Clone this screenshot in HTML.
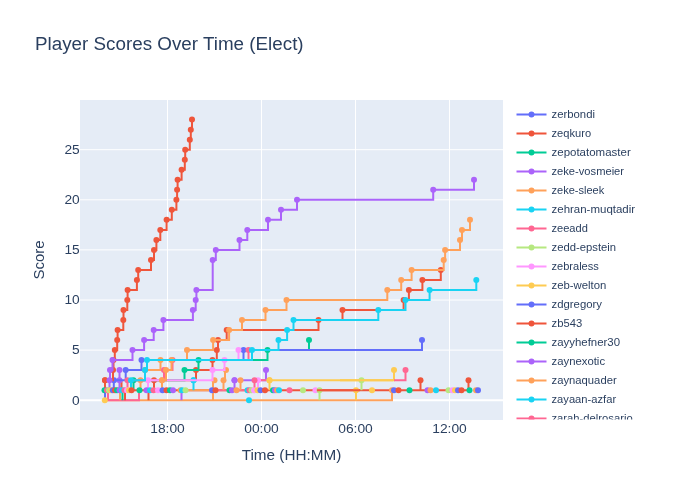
<!DOCTYPE html>
<html><head><meta charset="utf-8"><style>
html,body{margin:0;padding:0;background:#fff;}
svg{display:block;will-change:transform;}
text{font-family:"Liberation Sans",sans-serif;fill:#2a3f5f;}
.tk{font-size:12.3px;}
.lg{font-size:10.8px;}
.tt{font-size:17.6px;}
.ax{font-size:14.4px;}
.tr path{fill:none;stroke-width:2;}
</style></head><body>
<svg width="700" height="500" viewBox="0 0 700 500">
<rect width="700" height="500" fill="#fff"/>
<rect x="80" y="100" width="423" height="320" fill="#E5ECF6"/>
<g stroke="#fff" stroke-width="1" fill="none"><path d="M167.5,100V420"/><path d="M261.5,100V420"/><path d="M355.5,100V420"/><path d="M449.5,100V420"/><path d="M80,350.1H503"/><path d="M80,300.0H503"/><path d="M80,249.9H503"/><path d="M80,199.8H503"/><path d="M80,149.7H503"/></g>
<path d="M80,400.2H503" stroke="#fff" stroke-width="2"/>
<clipPath id="cp"><rect x="80" y="100" width="423" height="320"/></clipPath>
<g class="tr" clip-path="url(#cp)">
<path d="M105.0,400.2H392.0V390.2" stroke="#FFA15A"/>
<path d="M108,390.2V400.2H139V390.2" stroke="#FF6692"/>
<path d="M105.0,400.2V390.2" stroke="#636efa"/>
<path d="M120.0,400.2V390.2" stroke="#FFA15A"/>
<path d="M122.5,400.2V390.2" stroke="#00cc96"/>
<path d="M125.0,400.2V390.2" stroke="#EF553B"/>
<path d="M148.5,400.2V390.2" stroke="#EF553B"/>
<path d="M181.5,400.2V390.2" stroke="#ab63fa"/>
<path d="M213.0,400.2V390.2" stroke="#FFA15A"/>
<path d="M319.5,400.2V390.2" stroke="#B6E880"/>
<path d="M356.0,400.2V390.2" stroke="#FECB52"/>
<path d="M104.0,390.2H470.0" stroke="#EF553B"/>
<path d="M185.0,390.2H210.0" stroke="#FFA15A"/>
<path d="M215.5,390.2H246.0" stroke="#FF6692"/>
<path d="M109.5,390.2V380.2" stroke="#ab63fa"/>
<path d="M119.5,390.2V380.2" stroke="#ab63fa"/>
<path d="M121.5,390.2V380.2" stroke="#EF553B"/>
<path d="M193.5,390.2V380.2" stroke="#19d3f3"/>
<path d="M361.5,390.2V380.2" stroke="#B6E880"/>
<path d="M420.5,390.2V380.2" stroke="#EF553B"/>
<path d="M468.5,390.2V380.2" stroke="#EF553B"/>
<path d="M269.5,390.2V380.2" stroke="#FECB52"/>
<path d="M213.0,390.2V380.2" stroke="#FFA15A"/>
<path d="M127.5,390.2V380.2" stroke="#FF6692"/>
<path d="M234.5,390.2V380.2" stroke="#ab63fa"/>
<path d="M240.5,390.2V380.2" stroke="#FFA15A"/>
<path d="M254.5,390.2V380.2" stroke="#FF6692"/>
<path d="M258.0,390.2V380.2" stroke="#FF97FF"/>
<path d="M140.5,390.2V380.2" stroke="#FFA15A"/>
<path d="M223.5,390.2V380.2" stroke="#FFA15A"/>
<path d="M105.0,390.2V380.2" stroke="#EF553B"/>
<path d="M113.8,390.2V380.2" stroke="#636efa"/>
<path d="M131.0,390.2V380.2" stroke="#19d3f3"/>
<path d="M133.5,390.2V380.2" stroke="#00cc96"/>
<path d="M148.0,390.2V380.2" stroke="#FF97FF"/>
<path d="M154.0,390.2V380.2" stroke="#EF553B"/>
<path d="M162.0,390.2V380.2" stroke="#FFA15A"/>
<path d="M234.5,380.2H266.0V370.1" stroke="#ab63fa"/>
<circle cx="234.5" cy="380.2" r="3" fill="#ab63fa"/>
<circle cx="266.0" cy="370.1" r="3" fill="#ab63fa"/>
<path d="M258.0,380.2H266.0" stroke="#FF6692"/>
<path d="M269.5,380.2H394.0V370.1" stroke="#FECB52"/>
<circle cx="269.5" cy="380.2" r="3" fill="#FECB52"/>
<circle cx="394.0" cy="370.1" r="3" fill="#FECB52"/>
<path d="M394.0,380.2H405.5V370.1" stroke="#FF6692"/>
<circle cx="405.5" cy="370.1" r="3" fill="#FF6692"/>
<path d="M223.5,380.2H225.0V370.1" stroke="#FFA15A"/>
<circle cx="223.5" cy="380.2" r="3" fill="#FFA15A"/>
<circle cx="226.0" cy="370.1" r="3" fill="#FFA15A"/>
<path d="M119.5,380.2H119.5V370.1" stroke="#ab63fa"/>
<circle cx="119.5" cy="380.2" r="3" fill="#ab63fa"/>
<circle cx="119.5" cy="370.1" r="3" fill="#ab63fa"/>
<circle cx="104.5" cy="390.2" r="3" fill="#00cc96"/>
<circle cx="107.0" cy="390.2" r="3" fill="#FF6692"/>
<circle cx="109.0" cy="390.2" r="3" fill="#B6E880"/>
<circle cx="111.0" cy="390.2" r="3" fill="#FECB52"/>
<circle cx="112.8" cy="390.2" r="3" fill="#636efa"/>
<circle cx="115.0" cy="390.2" r="3" fill="#EF553B"/>
<circle cx="117.0" cy="390.2" r="3" fill="#00cc96"/>
<circle cx="119.5" cy="390.2" r="3" fill="#ab63fa"/>
<circle cx="122.0" cy="390.2" r="3" fill="#19d3f3"/>
<circle cx="124.5" cy="390.2" r="3" fill="#FF6692"/>
<circle cx="127.0" cy="390.2" r="3" fill="#FF97FF"/>
<circle cx="129.0" cy="390.2" r="3" fill="#FECB52"/>
<circle cx="131.5" cy="390.2" r="3" fill="#EF553B"/>
<circle cx="139.5" cy="390.2" r="3" fill="#00cc96"/>
<circle cx="146.5" cy="390.2" r="3" fill="#ab63fa"/>
<circle cx="150.0" cy="390.2" r="3" fill="#19d3f3"/>
<circle cx="153.5" cy="390.2" r="3" fill="#FF6692"/>
<circle cx="158.0" cy="390.2" r="3" fill="#FF97FF"/>
<circle cx="162.5" cy="390.2" r="3" fill="#636efa"/>
<circle cx="166.5" cy="390.2" r="3" fill="#EF553B"/>
<circle cx="170.0" cy="390.2" r="3" fill="#00cc96"/>
<circle cx="173.0" cy="390.2" r="3" fill="#ab63fa"/>
<circle cx="180.5" cy="390.2" r="3" fill="#FFA15A"/>
<circle cx="182.0" cy="390.2" r="3" fill="#19d3f3"/>
<circle cx="185.5" cy="390.2" r="3" fill="#B6E880"/>
<circle cx="212.0" cy="390.2" r="3" fill="#636efa"/>
<circle cx="215.5" cy="390.2" r="3" fill="#EF553B"/>
<circle cx="229.5" cy="390.2" r="3" fill="#00cc96"/>
<circle cx="232.0" cy="390.2" r="3" fill="#ab63fa"/>
<circle cx="236.5" cy="390.2" r="3" fill="#FFA15A"/>
<circle cx="247.5" cy="390.2" r="3" fill="#19d3f3"/>
<circle cx="249.5" cy="390.2" r="3" fill="#FF6692"/>
<circle cx="251.5" cy="390.2" r="3" fill="#B6E880"/>
<circle cx="254.0" cy="390.2" r="3" fill="#FF97FF"/>
<circle cx="257.5" cy="390.2" r="3" fill="#FECB52"/>
<circle cx="260.5" cy="390.2" r="3" fill="#636efa"/>
<circle cx="265.0" cy="390.2" r="3" fill="#EF553B"/>
<circle cx="273.0" cy="390.2" r="3" fill="#00cc96"/>
<circle cx="275.0" cy="390.2" r="3" fill="#ab63fa"/>
<circle cx="277.0" cy="390.2" r="3" fill="#FFA15A"/>
<circle cx="279.0" cy="390.2" r="3" fill="#19d3f3"/>
<circle cx="289.5" cy="390.2" r="3" fill="#FF6692"/>
<circle cx="303.0" cy="390.2" r="3" fill="#B6E880"/>
<circle cx="315.5" cy="390.2" r="3" fill="#FF97FF"/>
<circle cx="319.5" cy="390.2" r="3" fill="#B6E880"/>
<circle cx="356.0" cy="390.2" r="3" fill="#FECB52"/>
<circle cx="372.0" cy="390.2" r="3" fill="#FECB52"/>
<circle cx="392.0" cy="390.2" r="3" fill="#FFA15A"/>
<circle cx="394.0" cy="390.2" r="3" fill="#636efa"/>
<circle cx="398.5" cy="390.2" r="3" fill="#EF553B"/>
<circle cx="409.5" cy="390.2" r="3" fill="#00cc96"/>
<circle cx="427.5" cy="390.2" r="3" fill="#ab63fa"/>
<circle cx="430.5" cy="390.2" r="3" fill="#FFA15A"/>
<circle cx="436.0" cy="390.2" r="3" fill="#19d3f3"/>
<circle cx="448.5" cy="390.2" r="3" fill="#B6E880"/>
<circle cx="452.5" cy="390.2" r="3" fill="#FF97FF"/>
<circle cx="455.0" cy="390.2" r="3" fill="#FECB52"/>
<circle cx="458.0" cy="390.2" r="3" fill="#636efa"/>
<circle cx="461.5" cy="390.2" r="3" fill="#EF553B"/>
<circle cx="469.5" cy="390.2" r="3" fill="#00cc96"/>
<circle cx="476.0" cy="390.2" r="3" fill="#FFA15A"/>
<circle cx="478.0" cy="390.2" r="3" fill="#636efa"/>
<circle cx="105.0" cy="380.2" r="3" fill="#EF553B"/>
<circle cx="258.0" cy="380.2" r="3" fill="#FF97FF"/>
<circle cx="254.5" cy="380.2" r="3" fill="#FF6692"/>
<circle cx="234.5" cy="380.2" r="3" fill="#ab63fa"/>
<circle cx="240.5" cy="380.2" r="3" fill="#FFA15A"/>
<circle cx="269.5" cy="380.2" r="3" fill="#FECB52"/>
<circle cx="361.5" cy="380.2" r="3" fill="#B6E880"/>
<circle cx="420.5" cy="380.2" r="3" fill="#EF553B"/>
<circle cx="468.5" cy="380.2" r="3" fill="#EF553B"/>
<circle cx="193.5" cy="380.2" r="3" fill="#19d3f3"/>
<circle cx="214.5" cy="380.2" r="3" fill="#FFA15A"/>
<circle cx="162.0" cy="380.2" r="3" fill="#FFA15A"/>
<path d="M317.0,390.2H360.0" stroke="#EF553B"/>
<path d="M340.0,380.2H393.0" stroke="#FECB52"/>
<circle cx="104.8" cy="400.2" r="3" fill="#FECB52"/>
<circle cx="249.0" cy="400.2" r="3" fill="#19d3f3"/>
<path d="M154.0,380.2H196.0V370.1H212.5V360.1H216.8V350.1H218.0V340.1H226.7V330.1H318.5V320.0H342.5V310.0H403.6V300.0H408.9V290.0H422.4V280.0H440.8V269.9" stroke="#EF553B"/>
<circle cx="154.0" cy="380.2" r="3" fill="#EF553B"/>
<circle cx="196.0" cy="370.1" r="3" fill="#EF553B"/>
<circle cx="212.5" cy="360.1" r="3" fill="#EF553B"/>
<circle cx="216.8" cy="350.1" r="3" fill="#EF553B"/>
<circle cx="218.0" cy="340.1" r="3" fill="#EF553B"/>
<circle cx="226.7" cy="330.1" r="3" fill="#EF553B"/>
<circle cx="318.5" cy="320.0" r="3" fill="#EF553B"/>
<circle cx="342.5" cy="310.0" r="3" fill="#EF553B"/>
<circle cx="403.6" cy="300.0" r="3" fill="#EF553B"/>
<circle cx="408.9" cy="290.0" r="3" fill="#EF553B"/>
<circle cx="422.4" cy="280.0" r="3" fill="#EF553B"/>
<circle cx="440.8" cy="269.9" r="3" fill="#EF553B"/>
<path d="M133.5,380.2H184.5V370.1H198.5V360.1H267.5V350.1H309.0V340.1" stroke="#00cc96"/>
<circle cx="133.5" cy="380.2" r="3" fill="#00cc96"/>
<circle cx="184.5" cy="370.1" r="3" fill="#00cc96"/>
<circle cx="198.5" cy="360.1" r="3" fill="#00cc96"/>
<circle cx="267.5" cy="350.1" r="3" fill="#00cc96"/>
<circle cx="309.0" cy="340.1" r="3" fill="#00cc96"/>
<path d="M114.0,380.2H125.7V370.1H141.5V360.1H243.5V350.1H422.0V340.1" stroke="#636efa"/>
<circle cx="114.0" cy="380.2" r="3" fill="#636efa"/>
<circle cx="125.7" cy="370.1" r="3" fill="#636efa"/>
<circle cx="141.5" cy="360.1" r="3" fill="#636efa"/>
<circle cx="243.5" cy="350.1" r="3" fill="#636efa"/>
<circle cx="422.0" cy="340.1" r="3" fill="#636efa"/>
<path d="M105.0,380.2H113.0V370.1H113.5V360.1H114.8V350.1H117.2V340.1H117.6V330.1H123.3V320.0H123.5V310.0H127.3V300.0H127.6V290.0H136.9V280.0H138.2V269.9H151.0V259.9H154.0V249.9H156.4V239.9H160.3V229.9H166.6V219.8H171.8V209.8H176.4V199.8H177.1V189.8H177.6V179.8H181.6V169.7H184.8V159.7H185.2V149.7H189.8V139.7H190.8V129.7H192.0V119.6" stroke="#EF553B"/>
<circle cx="105.0" cy="380.2" r="3" fill="#EF553B"/>
<circle cx="113.0" cy="370.1" r="3" fill="#EF553B"/>
<circle cx="113.5" cy="360.1" r="3" fill="#EF553B"/>
<circle cx="114.8" cy="350.1" r="3" fill="#EF553B"/>
<circle cx="117.2" cy="340.1" r="3" fill="#EF553B"/>
<circle cx="117.6" cy="330.1" r="3" fill="#EF553B"/>
<circle cx="123.3" cy="320.0" r="3" fill="#EF553B"/>
<circle cx="123.5" cy="310.0" r="3" fill="#EF553B"/>
<circle cx="127.3" cy="300.0" r="3" fill="#EF553B"/>
<circle cx="127.6" cy="290.0" r="3" fill="#EF553B"/>
<circle cx="136.9" cy="280.0" r="3" fill="#EF553B"/>
<circle cx="138.2" cy="269.9" r="3" fill="#EF553B"/>
<circle cx="151.0" cy="259.9" r="3" fill="#EF553B"/>
<circle cx="154.0" cy="249.9" r="3" fill="#EF553B"/>
<circle cx="156.4" cy="239.9" r="3" fill="#EF553B"/>
<circle cx="160.3" cy="229.9" r="3" fill="#EF553B"/>
<circle cx="166.6" cy="219.8" r="3" fill="#EF553B"/>
<circle cx="171.8" cy="209.8" r="3" fill="#EF553B"/>
<circle cx="176.4" cy="199.8" r="3" fill="#EF553B"/>
<circle cx="177.1" cy="189.8" r="3" fill="#EF553B"/>
<circle cx="177.6" cy="179.8" r="3" fill="#EF553B"/>
<circle cx="181.6" cy="169.7" r="3" fill="#EF553B"/>
<circle cx="184.8" cy="159.7" r="3" fill="#EF553B"/>
<circle cx="185.2" cy="149.7" r="3" fill="#EF553B"/>
<circle cx="189.8" cy="139.7" r="3" fill="#EF553B"/>
<circle cx="190.8" cy="129.7" r="3" fill="#EF553B"/>
<circle cx="192.0" cy="119.6" r="3" fill="#EF553B"/>
<path d="M109.5,380.2H110.0V370.1H112.5V360.1H132.5V350.1H144.1V340.1H153.7V330.1H163.4V320.0H192.9V310.0H195.7V300.0H196.4V290.0H212.7V259.9H215.8V249.9H239.5V239.9H247.3V229.9H268.0V219.8H281.0V209.8H297.0V199.8H433.2V189.8H474.0V179.8" stroke="#ab63fa"/>
<circle cx="109.5" cy="380.2" r="3" fill="#ab63fa"/>
<circle cx="110.0" cy="370.1" r="3" fill="#ab63fa"/>
<circle cx="112.5" cy="360.1" r="3" fill="#ab63fa"/>
<circle cx="132.5" cy="350.1" r="3" fill="#ab63fa"/>
<circle cx="144.1" cy="340.1" r="3" fill="#ab63fa"/>
<circle cx="153.7" cy="330.1" r="3" fill="#ab63fa"/>
<circle cx="163.4" cy="320.0" r="3" fill="#ab63fa"/>
<circle cx="192.9" cy="310.0" r="3" fill="#ab63fa"/>
<circle cx="195.7" cy="300.0" r="3" fill="#ab63fa"/>
<circle cx="196.4" cy="290.0" r="3" fill="#ab63fa"/>
<circle cx="212.7" cy="259.9" r="3" fill="#ab63fa"/>
<circle cx="215.8" cy="249.9" r="3" fill="#ab63fa"/>
<circle cx="239.5" cy="239.9" r="3" fill="#ab63fa"/>
<circle cx="247.3" cy="229.9" r="3" fill="#ab63fa"/>
<circle cx="268.0" cy="219.8" r="3" fill="#ab63fa"/>
<circle cx="281.0" cy="209.8" r="3" fill="#ab63fa"/>
<circle cx="297.0" cy="199.8" r="3" fill="#ab63fa"/>
<circle cx="433.2" cy="189.8" r="3" fill="#ab63fa"/>
<circle cx="474.0" cy="179.8" r="3" fill="#ab63fa"/>
<path d="M140.5,380.2H145.0V370.1H160.5V360.1H187.0V350.1H213.1V340.1H229.1V330.1H242.0V320.0H265.5V310.0H286.5V300.0H387.3V290.0H401.2V280.0H411.6V269.9H443.7V259.9H445.1V249.9H460.0V239.9H462.0V229.9H470.0V219.8" stroke="#FFA15A"/>
<circle cx="140.5" cy="380.2" r="3" fill="#FFA15A"/>
<circle cx="145.0" cy="370.1" r="3" fill="#FFA15A"/>
<circle cx="160.5" cy="360.1" r="3" fill="#FFA15A"/>
<circle cx="187.0" cy="350.1" r="3" fill="#FFA15A"/>
<circle cx="213.1" cy="340.1" r="3" fill="#FFA15A"/>
<circle cx="229.1" cy="330.1" r="3" fill="#FFA15A"/>
<circle cx="242.0" cy="320.0" r="3" fill="#FFA15A"/>
<circle cx="265.5" cy="310.0" r="3" fill="#FFA15A"/>
<circle cx="286.5" cy="300.0" r="3" fill="#FFA15A"/>
<circle cx="387.3" cy="290.0" r="3" fill="#FFA15A"/>
<circle cx="401.2" cy="280.0" r="3" fill="#FFA15A"/>
<circle cx="411.6" cy="269.9" r="3" fill="#FFA15A"/>
<circle cx="443.7" cy="259.9" r="3" fill="#FFA15A"/>
<circle cx="445.1" cy="249.9" r="3" fill="#FFA15A"/>
<circle cx="460.0" cy="239.9" r="3" fill="#FFA15A"/>
<circle cx="462.0" cy="229.9" r="3" fill="#FFA15A"/>
<circle cx="470.0" cy="219.8" r="3" fill="#FFA15A"/>
<path d="M127.5,380.2H164.0V370.1H172.5V360.1H248.5V350.1" stroke="#FF6692"/>
<circle cx="127.5" cy="380.2" r="3" fill="#FF6692"/>
<circle cx="164.0" cy="370.1" r="3" fill="#FF6692"/>
<circle cx="172.5" cy="360.1" r="3" fill="#FF6692"/>
<circle cx="248.5" cy="350.1" r="3" fill="#FF6692"/>
<circle cx="193.5" cy="380.2" r="3" fill="#19d3f3"/>
<path d="M148.0,380.2H212.5V370.1H224.5V360.1H238.5V350.1" stroke="#FF97FF"/>
<circle cx="148.0" cy="380.2" r="3" fill="#FF97FF"/>
<circle cx="212.5" cy="370.1" r="3" fill="#FF97FF"/>
<circle cx="224.5" cy="360.1" r="3" fill="#FF97FF"/>
<circle cx="238.5" cy="350.1" r="3" fill="#FF97FF"/>
<path d="M162.0,380.2H166.0V370.1H171.5V360.1" stroke="#FFA15A"/>
<circle cx="162.0" cy="380.2" r="3" fill="#FFA15A"/>
<circle cx="166.0" cy="370.1" r="3" fill="#FFA15A"/>
<circle cx="171.5" cy="360.1" r="3" fill="#FFA15A"/>
<path d="M131.0,380.2H145.0V370.1H147.0V360.1H252.0V350.1H278.5V340.1H287.1V330.1H293.5V320.0H378.3V310.0H405.5V300.0H429.6V290.0H476.3V280.0" stroke="#19d3f3"/>
<circle cx="131.0" cy="380.2" r="3" fill="#19d3f3"/>
<circle cx="145.0" cy="370.1" r="3" fill="#19d3f3"/>
<circle cx="147.0" cy="360.1" r="3" fill="#19d3f3"/>
<circle cx="252.0" cy="350.1" r="3" fill="#19d3f3"/>
<circle cx="278.5" cy="340.1" r="3" fill="#19d3f3"/>
<circle cx="287.1" cy="330.1" r="3" fill="#19d3f3"/>
<circle cx="293.5" cy="320.0" r="3" fill="#19d3f3"/>
<circle cx="378.3" cy="310.0" r="3" fill="#19d3f3"/>
<circle cx="405.5" cy="300.0" r="3" fill="#19d3f3"/>
<circle cx="429.6" cy="290.0" r="3" fill="#19d3f3"/>
<circle cx="476.3" cy="280.0" r="3" fill="#19d3f3"/>
</g>
<text x="167.5" y="433" class="tk" text-anchor="middle" textLength="34.61" lengthAdjust="spacingAndGlyphs">18:00</text><text x="261.5" y="433" class="tk" text-anchor="middle" textLength="34.61" lengthAdjust="spacingAndGlyphs">00:00</text><text x="355.5" y="433" class="tk" text-anchor="middle" textLength="34.61" lengthAdjust="spacingAndGlyphs">06:00</text><text x="449.5" y="433" class="tk" text-anchor="middle" textLength="34.61" lengthAdjust="spacingAndGlyphs">12:00</text><text x="79.7" y="404.5" class="tk" text-anchor="end" textLength="7.64" lengthAdjust="spacingAndGlyphs">0</text><text x="79.7" y="354.4" class="tk" text-anchor="end" textLength="7.64" lengthAdjust="spacingAndGlyphs">5</text><text x="79.7" y="304.3" class="tk" text-anchor="end" textLength="15.28" lengthAdjust="spacingAndGlyphs">10</text><text x="79.7" y="254.2" class="tk" text-anchor="end" textLength="15.28" lengthAdjust="spacingAndGlyphs">15</text><text x="79.7" y="204.1" class="tk" text-anchor="end" textLength="15.28" lengthAdjust="spacingAndGlyphs">20</text><text x="79.7" y="154.0" class="tk" text-anchor="end" textLength="15.28" lengthAdjust="spacingAndGlyphs">25</text>
<text x="35" y="50" class="tt" textLength="268.64" lengthAdjust="spacingAndGlyphs">Player Scores Over Time (Elect)</text>
<text x="291.5" y="460" class="ax" text-anchor="middle" textLength="99.58" lengthAdjust="spacingAndGlyphs">Time (HH:MM)</text>
<text transform="translate(44,260) rotate(-90)" class="ax" text-anchor="middle" textLength="39.20" lengthAdjust="spacingAndGlyphs">Score</text>
<clipPath id="cl"><rect x="505" y="100" width="195" height="319.5"/></clipPath>
<g class="tr" clip-path="url(#cl)">
<path d="M516.5,114.4H546.5" stroke="#636efa"/><circle cx="531.5" cy="114.4" r="3" fill="#636efa"/>
<text x="551.5" y="118.0" class="lg" textLength="43.45" lengthAdjust="spacingAndGlyphs">zerbondi</text>
<path d="M516.5,133.4H546.5" stroke="#EF553B"/><circle cx="531.5" cy="133.4" r="3" fill="#EF553B"/>
<text x="551.5" y="137.0" class="lg" textLength="39.59" lengthAdjust="spacingAndGlyphs">zeqkuro</text>
<path d="M516.5,152.4H546.5" stroke="#00cc96"/><circle cx="531.5" cy="152.4" r="3" fill="#00cc96"/>
<text x="551.5" y="156.0" class="lg" textLength="79.22" lengthAdjust="spacingAndGlyphs">zepotatomaster</text>
<path d="M516.5,171.4H546.5" stroke="#ab63fa"/><circle cx="531.5" cy="171.4" r="3" fill="#ab63fa"/>
<text x="551.5" y="175.0" class="lg" textLength="72.53" lengthAdjust="spacingAndGlyphs">zeke-vosmeier</text>
<path d="M516.5,190.4H546.5" stroke="#FFA15A"/><circle cx="531.5" cy="190.4" r="3" fill="#FFA15A"/>
<text x="551.5" y="194.0" class="lg" textLength="52.70" lengthAdjust="spacingAndGlyphs">zeke-sleek</text>
<path d="M516.5,209.4H546.5" stroke="#19d3f3"/><circle cx="531.5" cy="209.4" r="3" fill="#19d3f3"/>
<text x="551.5" y="213.0" class="lg" textLength="83.64" lengthAdjust="spacingAndGlyphs">zehran-muqtadir</text>
<path d="M516.5,228.4H546.5" stroke="#FF6692"/><circle cx="531.5" cy="228.4" r="3" fill="#FF6692"/>
<text x="551.5" y="232.0" class="lg" textLength="36.38" lengthAdjust="spacingAndGlyphs">zeeadd</text>
<path d="M516.5,247.4H546.5" stroke="#B6E880"/><circle cx="531.5" cy="247.4" r="3" fill="#B6E880"/>
<text x="551.5" y="251.0" class="lg" textLength="64.61" lengthAdjust="spacingAndGlyphs">zedd-epstein</text>
<path d="M516.5,266.4H546.5" stroke="#FF97FF"/><circle cx="531.5" cy="266.4" r="3" fill="#FF97FF"/>
<text x="551.5" y="270.0" class="lg" textLength="47.33" lengthAdjust="spacingAndGlyphs">zebraless</text>
<path d="M516.5,285.4H546.5" stroke="#FECB52"/><circle cx="531.5" cy="285.4" r="3" fill="#FECB52"/>
<text x="551.5" y="289.0" class="lg" textLength="54.86" lengthAdjust="spacingAndGlyphs">zeb-welton</text>
<path d="M516.5,304.4H546.5" stroke="#636efa"/><circle cx="531.5" cy="304.4" r="3" fill="#636efa"/>
<text x="551.5" y="308.0" class="lg" textLength="50.48" lengthAdjust="spacingAndGlyphs">zdgregory</text>
<path d="M516.5,323.4H546.5" stroke="#EF553B"/><circle cx="531.5" cy="323.4" r="3" fill="#EF553B"/>
<text x="551.5" y="327.0" class="lg" textLength="30.67" lengthAdjust="spacingAndGlyphs">zb543</text>
<path d="M516.5,342.4H546.5" stroke="#00cc96"/><circle cx="531.5" cy="342.4" r="3" fill="#00cc96"/>
<text x="551.5" y="346.0" class="lg" textLength="68.56" lengthAdjust="spacingAndGlyphs">zayyhefner30</text>
<path d="M516.5,361.4H546.5" stroke="#ab63fa"/><circle cx="531.5" cy="361.4" r="3" fill="#ab63fa"/>
<text x="551.5" y="365.0" class="lg" textLength="53.56" lengthAdjust="spacingAndGlyphs">zaynexotic</text>
<path d="M516.5,380.4H546.5" stroke="#FFA15A"/><circle cx="531.5" cy="380.4" r="3" fill="#FFA15A"/>
<text x="551.5" y="384.0" class="lg" textLength="65.19" lengthAdjust="spacingAndGlyphs">zaynaquader</text>
<path d="M516.5,399.4H546.5" stroke="#19d3f3"/><circle cx="531.5" cy="399.4" r="3" fill="#19d3f3"/>
<text x="551.5" y="403.0" class="lg" textLength="64.62" lengthAdjust="spacingAndGlyphs">zayaan-azfar</text>
<path d="M516.5,418.4H546.5" stroke="#FF6692"/><circle cx="531.5" cy="418.4" r="3" fill="#FF6692"/>
<text x="551.5" y="422.0" class="lg" textLength="81.20" lengthAdjust="spacingAndGlyphs">zarah-delrosario</text>
</g>
</svg>
</body></html>
